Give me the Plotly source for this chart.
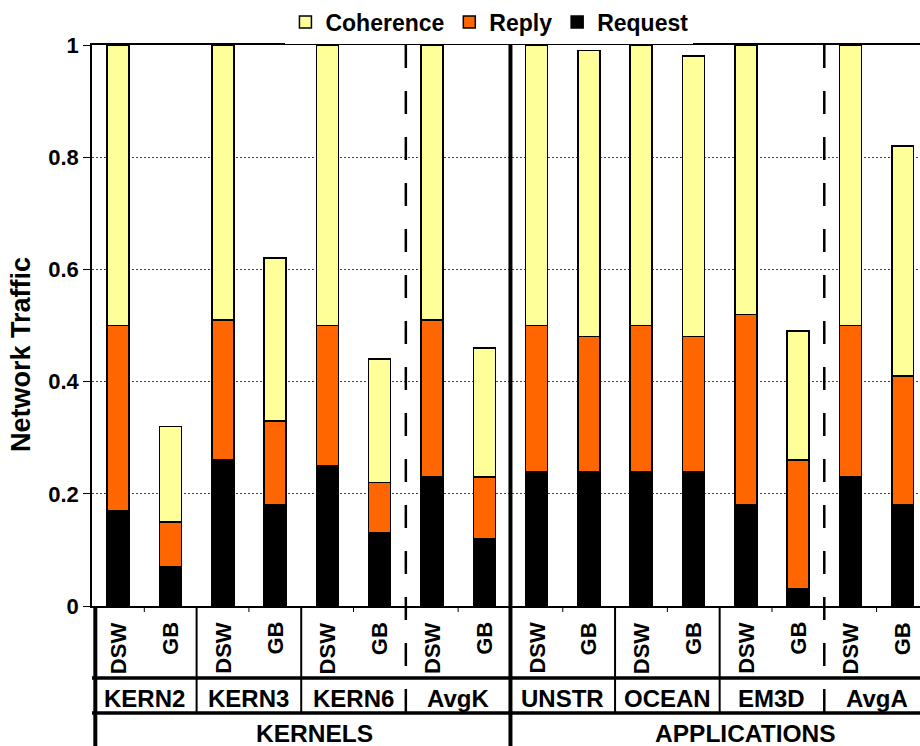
import plotly.graph_objects as go

groups = ["KERN2", "KERN3", "KERN6", "AvgK", "UNSTR", "OCEAN", "EM3D", "AvgA"]
configs = ["DSW", "GB"]
suites = ["KERNELS", "APPLICATIONS"]

# one bar per (benchmark, config)
request = [0.17, 0.07, 0.26, 0.18, 0.25, 0.13, 0.23, 0.12,
           0.24, 0.24, 0.24, 0.24, 0.18, 0.03, 0.23, 0.18]
reply = [0.33, 0.08, 0.25, 0.15, 0.25, 0.09, 0.28, 0.11,
         0.26, 0.24, 0.26, 0.24, 0.34, 0.23, 0.27, 0.23]
coherence = [0.50, 0.17, 0.49, 0.29, 0.50, 0.22, 0.49, 0.23,
             0.50, 0.51, 0.50, 0.50, 0.48, 0.23, 0.50, 0.41]

y_ticks = [0, 0.2, 0.4, 0.6, 0.8, 1]
y_ticktext = ["0", "0.2", "0.4", "0.6", "0.8", "1"]

cats = [g + " " + c for g in groups for c in configs]

FONT = "Liberation Sans, Arial, sans-serif"
outline = dict(color="black", width=1.5)

fig = go.Figure()
fig.add_trace(go.Bar(x=cats, y=request, name="Request",
                     marker=dict(color="black", line=outline)))
fig.add_trace(go.Bar(x=cats, y=reply, name="Reply",
                     marker=dict(color="#FF6600", line=outline)))
fig.add_trace(go.Bar(x=cats, y=coherence, name="Coherence",
                     marker=dict(color="#FFFF99", line=outline)))

# pixel row -> paper y (plot spans 45..606 px)
def py(px):
    return (606 - px) / 561

annotations = []
for i, c in enumerate(cats):
    annotations.append(dict(x=c, xref="x", y=py(620), yref="paper",
                            text=configs[i % 2], textangle=-90, showarrow=False,
                            xanchor="center", yanchor="top",
                            font=dict(family=FONT, size=22, color="black", weight="bold")))
for k, g in enumerate(groups):
    annotations.append(dict(x=2 * k + 0.5, xref="x", y=py(698), yref="paper",
                            text=g, showarrow=False, xanchor="center", yanchor="middle",
                            font=dict(family=FONT, size=24, color="black", weight="bold")))
for x, s in zip([3.75, 12.0], suites):
    annotations.append(dict(x=x, xref="x", y=py(733), yref="paper",
                            text=s, showarrow=False, xanchor="center", yanchor="middle",
                            font=dict(family=FONT, size=24.5, color="black", weight="bold")))
# y axis title, sits a bit below the plot's middle
annotations.append(dict(x=-0.0857, xref="paper", y=py(355), yref="paper",
                        text="Network Traffic", textangle=-90, showarrow=False,
                        xanchor="center", yanchor="middle",
                        font=dict(family=FONT, size=27, color="black", weight="bold")))

shapes = []
# horizontal rules of the label table
for yy in [678, 713]:
    shapes.append(dict(type="line", xref="paper", yref="paper", x0=0, x1=1,
                       y0=py(yy), y1=py(yy), line=dict(color="black", width=3.5)))
# left border of the label table
shapes.append(dict(type="line", xref="paper", yref="paper", x0=0.004, x1=0.004,
                   y0=0, y1=py(746), line=dict(color="black", width=4)))
# small ticks between DSW and GB
for k in range(len(groups)):
    shapes.append(dict(type="line", xref="x", yref="paper", x0=2 * k + 0.5, x1=2 * k + 0.5,
                       y0=0, y1=py(612), line=dict(color="black", width=1)))
# group separators
for b in [1.5, 3.5, 9.5, 11.5]:
    shapes.append(dict(type="line", xref="x", yref="paper", x0=b, x1=b,
                       y0=0, y1=py(713), line=dict(color="black", width=2)))
# dashed separators before the averages
for b in [5.5, 13.5]:
    shapes.append(dict(type="line", xref="x", yref="paper", x0=b, x1=b,
                       y0=1, y1=py(713), line=dict(color="black", width=2.5, dash="23px,23px")))
# kernels / applications divider
shapes.append(dict(type="line", xref="x", yref="paper", x0=7.5, x1=7.5,
                   y0=1, y1=py(746), line=dict(color="black", width=4)))

fig.update_layout(
    barmode="stack",
    bargap=0.58,
    width=920, height=746,
    margin=dict(l=92, r=0, t=45, b=140),
    plot_bgcolor="white", paper_bgcolor="white",
    font=dict(family=FONT, color="black"),
    legend=dict(orientation="h", traceorder="reversed", x=0.48, xanchor="center",
                y=py(22), yanchor="middle",
                font=dict(family=FONT, size=23, color="black", weight="bold")),
    annotations=annotations,
    shapes=shapes,
)
fig.update_xaxes(range=[-0.5, 15.33], showticklabels=False, ticks="",
                 showline=True, linecolor="black", linewidth=1.5, mirror=True,
                 showgrid=False)
fig.update_yaxes(range=[0, 1], tickvals=y_ticks, ticktext=y_ticktext,
                 ticks="outside", ticklen=7, tickcolor="black",
                 tickfont=dict(family=FONT, size=22, color="black", weight="bold"),
                 showline=True, linecolor="black", linewidth=1.5,
                 showgrid=True, gridcolor="#444", gridwidth=1, griddash="2px,2px")

# drop the page's default body margin so the figure sits at the window corner
fig.write_html("out.html", config={"displayModeBar": False},
               post_script="document.body.style.margin='0';")
